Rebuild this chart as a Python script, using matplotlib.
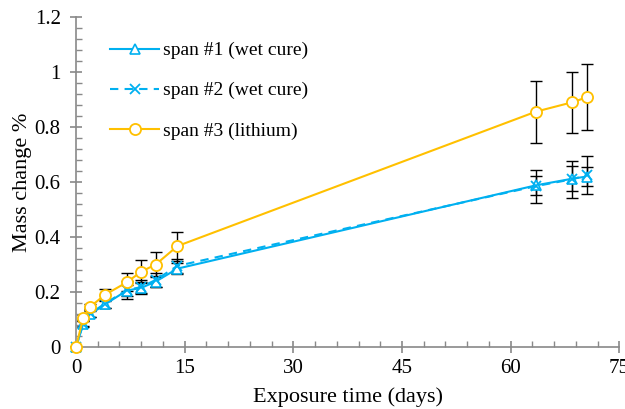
import numpy as np
import matplotlib.pyplot as plt
from matplotlib.ticker import MultipleLocator

plt.rcParams['font.family'] = ['Liberation Serif', 'DejaVu Serif']

days = [0, 1, 2, 4, 7, 9, 11, 14, 63.5, 68.5, 70.5]

span1 = [0, 0.083, 0.12, 0.155, 0.205, 0.215, 0.238, 0.285, 0.588, 0.612, 0.62]
span1_err = [0, 0.01, 0.01, 0.012, 0.02, 0.02, 0.02, 0.02, 0.035, 0.045, 0.035]

span2 = [0, 0.085, 0.122, 0.158, 0.207, 0.218, 0.244, 0.295, 0.585, 0.61, 0.625]
span2_err = [0, 0.01, 0.012, 0.015, 0.034, 0.025, 0.025, 0.025, 0.06, 0.067, 0.07]

span3 = [0, 0.107, 0.147, 0.19, 0.235, 0.274, 0.30, 0.367, 0.856, 0.89, 0.908]
span3_err = [0, 0.01, 0.01, 0.02, 0.033, 0.042, 0.045, 0.053, 0.113, 0.11, 0.12]

blue = '#00B0F0'
gold = '#FFC000'
grey = '#898989'

fig = plt.figure(figsize=(6.25, 4.09), dpi=100)
ax = fig.add_axes([0.1216, 0.1516, 0.8694, 0.8068])

ebkw = dict(ecolor='black', elinewidth=1, capsize=4, capthick=1)
ax.errorbar(days, span1, yerr=span1_err, fmt='none', **ebkw, zorder=1)
ax.errorbar(days, span2, yerr=span2_err, fmt='none', **ebkw, zorder=1)
ax.errorbar(days, span3, yerr=span3_err, fmt='none', **ebkw, zorder=1)

ax.plot(days, span1, color=blue, lw=1.5, marker='^', ms=7, mfc='white',
        mec=blue, mew=1.2, label='span #1 (wet cure)', zorder=3, clip_on=False)
ax.plot(days, span2, color=blue, lw=1.5, ls=(0, (4, 3)), marker='x', ms=7,
        mec=blue, mew=1.3, label='span #2 (wet cure)', zorder=3, clip_on=False)
ax.plot(days, span3, color=gold, lw=1.5, marker='o', ms=8, mfc='white',
        mec=gold, mew=1.3, label='span #3 (lithium)', zorder=4, clip_on=False)

ax.set_xlim(0, 75)
ax.set_ylim(0, 1.2)
ax.xaxis.set_major_locator(MultipleLocator(15))
ax.xaxis.set_minor_locator(MultipleLocator(3))
ax.yaxis.set_minor_locator(MultipleLocator(0.04))
ax.set_yticks(np.arange(0, 1.21, 0.2))
ax.set_yticklabels(['0', '0.2', '0.4', '0.6', '0.8', '1', '1.2'])

for s in ['top', 'right']:
    ax.spines[s].set_visible(False)
for s in ['left', 'bottom']:
    ax.spines[s].set_color(grey)
    ax.spines[s].set_linewidth(1.2)

ax.tick_params(which='major', direction='inout', length=8, width=1.2,
               color=grey, labelsize=15, labelcolor='black')
ax.tick_params(which='minor', direction='in', length=4, width=1, color=grey)
ax.tick_params(axis='x', pad=5)
ax.tick_params(axis='y', pad=7)

ax.set_xlabel('Exposure time (days)', fontsize=16, labelpad=6)
ax.set_ylabel('Mass change %', fontsize=16, labelpad=2)

ax.legend(loc='upper left', bbox_to_anchor=(0.031, 0.978), frameon=False,
          fontsize=14, handlelength=2.5, labelspacing=1.15, handletextpad=0.2)

fig.savefig('out.png', dpi=100)
